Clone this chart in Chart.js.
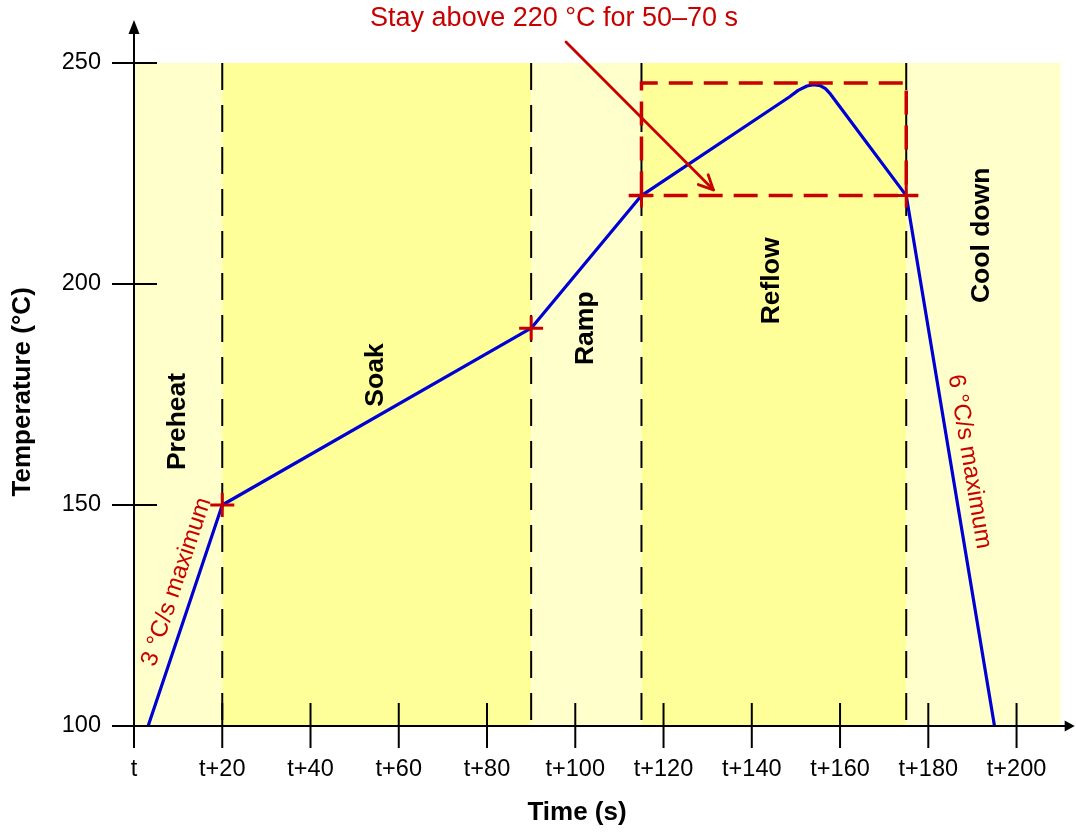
<!DOCTYPE html>
<html>
<head>
<meta charset="utf-8">
<script src="https://cdn.jsdelivr.net/npm/chart.js@4.4.1/dist/chart.umd.min.js"></script>
<style>html,body{margin:0;padding:0;background:#fff;}canvas{display:block;}</style>
</head>
<body>
<canvas id="c" width="1076" height="833"></canvas>
<script>
const FONT = '"Liberation Sans", Arial, Helvetica, sans-serif';

// ---- data ----
const profileTime = [3.2, 20, 90, 115, 148.5, 150.5, 152.5, 154, 155.5, 156.7, 157.8, 175, 195];
const profileTemp = [100, 150, 190, 220, 242.3, 243.8, 244.8, 245.1, 244.9, 244.2, 243.0, 220, 100];
const markerTime = [20, 90, 115, 175];
const markerTemp = [150, 190, 220, 220];
const windowTime = [115, 115, 175, 175];
const windowTemp = [220, 245.5, 245.5, 220];
const liquidusTime = [112.1, 177.7];
const liquidusTemp = [220, 220];
const phaseBounds = [20, 90, 115, 175];
const bandStart = [0, 20, 90, 115, 175];
const bandEnd = [20, 90, 115, 175, 210];
const bandShade = ['light', 'dark', 'light', 'dark', 'light'];
const phaseNames = ['Preheat', 'Soak', 'Ramp', 'Reflow', 'Cool down'];
const phaseLabelTime = [10.0, 54.8, 102.3, 144.6, 192.1];
const phaseLabelTemp = [168.9, 179.4, 190.0, 200.7, 211.0];
const rateTexts = ['3 \u00B0C/s maximum', '6 \u00B0C/s maximum'];
const rateTime = [9.65, 189.3];
const rateTemp = [132.6, 159.8];
const xTickValues = [0, 20, 40, 60, 80, 100, 120, 140, 160, 180, 200];
const xTickLabels = ['t', 't+20', 't+40', 't+60', 't+80', 't+100', 't+120', 't+140', 't+160', 't+180', 't+200'];
const yTickValues = [100, 150, 200, 250];
const yTickLabels = ['100', '150', '200', '250'];
const noteText = 'Stay above 220 \u00B0C for 50\u201370 s';
const noteTime = 95.2, noteTemp = 260;
const arrowFrom = [97.9, 254.75];
const arrowTo = [131.3, 221.3];

// ---- styles ----
const style = {
  light: '#ffffcc', dark: '#ffff99',
  red: '#c80000', blue: '#0000d4', black: '#000000',
  rateAngles: [-71.5, 80.6]
};

function pts(xs, ys) { return xs.map((v, i) => ({ x: v, y: ys[i] })); }

function txt(ctx, s, x, y, angle, font, color) {
  ctx.save();
  ctx.translate(x, y);
  ctx.rotate(angle * Math.PI / 180);
  ctx.font = font;
  ctx.fillStyle = color;
  ctx.textAlign = 'center';
  ctx.textBaseline = 'middle';
  ctx.fillText(s, 0, 0);
  ctx.restore();
}

const decor = {
  id: 'decor',
  beforeDatasetsDraw(chart) {
    const { ctx, scales: { x, y } } = chart;
    ctx.save();
    const top = y.getPixelForValue(250), bot = y.getPixelForValue(100);
    bandStart.forEach((s, i) => {
      const x0 = x.getPixelForValue(s), x1 = x.getPixelForValue(bandEnd[i]);
      ctx.fillStyle = style[bandShade[i]];
      ctx.fillRect(x0, top, x1 - x0, bot - top);
    });
    ctx.strokeStyle = style.black;
    ctx.lineWidth = 2;
    ctx.setLineDash([27, 15]);
    phaseBounds.forEach(b => {
      const px = x.getPixelForValue(b);
      ctx.beginPath();
      ctx.moveTo(px, top);
      ctx.lineTo(px, bot);
      ctx.stroke();
    });
    ctx.restore();
  },
  afterDatasetsDraw(chart) {
    const { ctx, scales: { x, y } } = chart;
    ctx.save();
    const x0 = x.getPixelForValue(0), y0 = y.getPixelForValue(100);
    const yTop = y.getPixelForValue(250);
    ctx.strokeStyle = style.black;
    ctx.fillStyle = style.black;
    ctx.lineWidth = 2;
    ctx.setLineDash([]);
    // x axis
    ctx.beginPath();
    ctx.moveTo(x0 - 22, y0);
    ctx.lineTo(x.getPixelForValue(210) + 6, y0);
    ctx.stroke();
    const xe = x.getPixelForValue(210) + 14;
    ctx.beginPath();
    ctx.moveTo(xe, y0);
    ctx.lineTo(xe - 10, y0 - 5.5);
    ctx.lineTo(xe - 10, y0 + 5.5);
    ctx.closePath();
    ctx.fill();
    // y axis
    ctx.beginPath();
    ctx.moveTo(x0, y0 + 22);
    ctx.lineTo(x0, yTop - 30);
    ctx.stroke();
    const ye = yTop - 43;
    ctx.beginPath();
    ctx.moveTo(x0, ye);
    ctx.lineTo(x0 - 5.5, ye + 14);
    ctx.lineTo(x0 + 5.5, ye + 14);
    ctx.closePath();
    ctx.fill();
    // ticks
    xTickValues.forEach(v => {
      const px = x.getPixelForValue(v);
      ctx.beginPath();
      ctx.moveTo(px, y0 - 23);
      ctx.lineTo(px, y0 + 22);
      ctx.stroke();
    });
    yTickValues.forEach(v => {
      const py = y.getPixelForValue(v);
      ctx.beginPath();
      ctx.moveTo(x0 - 22, py);
      ctx.lineTo(x0 + 23, py);
      ctx.stroke();
    });
    // arrow
    const ax0 = x.getPixelForValue(arrowFrom[0]), ay0 = y.getPixelForValue(arrowFrom[1]);
    const ax1 = x.getPixelForValue(arrowTo[0]), ay1 = y.getPixelForValue(arrowTo[1]);
    ctx.strokeStyle = style.red;
    ctx.lineWidth = 2.8;
    ctx.lineCap = 'round';
    ctx.beginPath();
    ctx.moveTo(ax0, ay0);
    ctx.lineTo(ax1, ay1);
    ctx.stroke();
    const ang = Math.atan2(ay1 - ay0, ax1 - ax0);
    [-0.45, 0.45].forEach(d => {
      ctx.beginPath();
      ctx.moveTo(ax1, ay1);
      ctx.lineTo(ax1 - 16 * Math.cos(ang + d), ay1 - 16 * Math.sin(ang + d));
      ctx.stroke();
    });
    // texts
    txt(ctx, noteText, x.getPixelForValue(noteTime), y.getPixelForValue(noteTemp), 0, '27px ' + FONT, style.red);
    phaseNames.forEach((n, i) => {
      txt(ctx, n, x.getPixelForValue(phaseLabelTime[i]), y.getPixelForValue(phaseLabelTemp[i]), -90, 'bold 26.5px ' + FONT, style.black);
    });
    rateTexts.forEach((t, i) => {
      txt(ctx, t, x.getPixelForValue(rateTime[i]), y.getPixelForValue(rateTemp[i]), style.rateAngles[i], '24px ' + FONT, style.red);
    });
    txt(ctx, 'Time (s)', x.getPixelForValue(100.4), y0 + 87, 0, 'bold 26px ' + FONT, style.black);
    txt(ctx, 'Temperature (\u00B0C)', x0 - 111, y.getPixelForValue(175.6), -90, 'bold 26px ' + FONT, style.black);
    ctx.restore();
  }
};

new Chart(document.getElementById('c'), {
  type: 'line',
  data: {
    datasets: [
      { label: 'markers', data: pts(markerTime, markerTemp), showLine: false, pointStyle: 'cross',
        pointRadius: 12, pointBorderWidth: 3, pointBorderColor: style.red, borderColor: style.red, order: 0 },
      { label: 'window', data: pts(windowTime, windowTemp), borderColor: style.red, borderWidth: 3.5,
        borderDash: [24, 11], pointRadius: 0, fill: false, tension: 0, order: 1 },
      { label: 'liquidus', data: pts(liquidusTime, liquidusTemp), borderColor: style.red, borderWidth: 3.5,
        borderDash: [24, 11], pointRadius: 0, fill: false, tension: 0, order: 2 },
      { label: 'profile', data: pts(profileTime, profileTemp), borderColor: style.blue, borderWidth: 3.2,
        pointRadius: 0, fill: false, tension: 0, borderJoinStyle: 'round', order: 3 }
    ]
  },
  options: {
    responsive: false,
    animation: false,
    layout: { padding: { left: 0, right: 13, top: 63, bottom: 0 } },
    plugins: { legend: { display: false }, tooltip: { enabled: false }, title: { display: false } },
    scales: {
      x: {
        type: 'linear', min: 0, max: 210,
        grid: { display: false, drawTicks: false }, border: { display: false },
        afterBuildTicks: s => { s.ticks = xTickValues.map(v => ({ value: v })); },
        afterFit: s => { s.height = 107; },
        ticks: { padding: 29, color: '#000', autoSkip: false, maxRotation: 0,
          font: { family: FONT, size: 23.5 }, callback: (v, i) => xTickLabels[i] }
      },
      y: {
        type: 'linear', min: 100, max: 250,
        grid: { display: false, drawTicks: false }, border: { display: false },
        afterBuildTicks: s => { s.ticks = yTickValues.map(v => ({ value: v })); },
        afterFit: s => { s.width = 134; },
        ticks: { padding: 33, color: '#000', autoSkip: false,
          font: { family: FONT, size: 23.5 }, callback: (v, i) => yTickLabels[i] }
      }
    }
  },
  plugins: [decor]
});
</script>
</body>
</html>
